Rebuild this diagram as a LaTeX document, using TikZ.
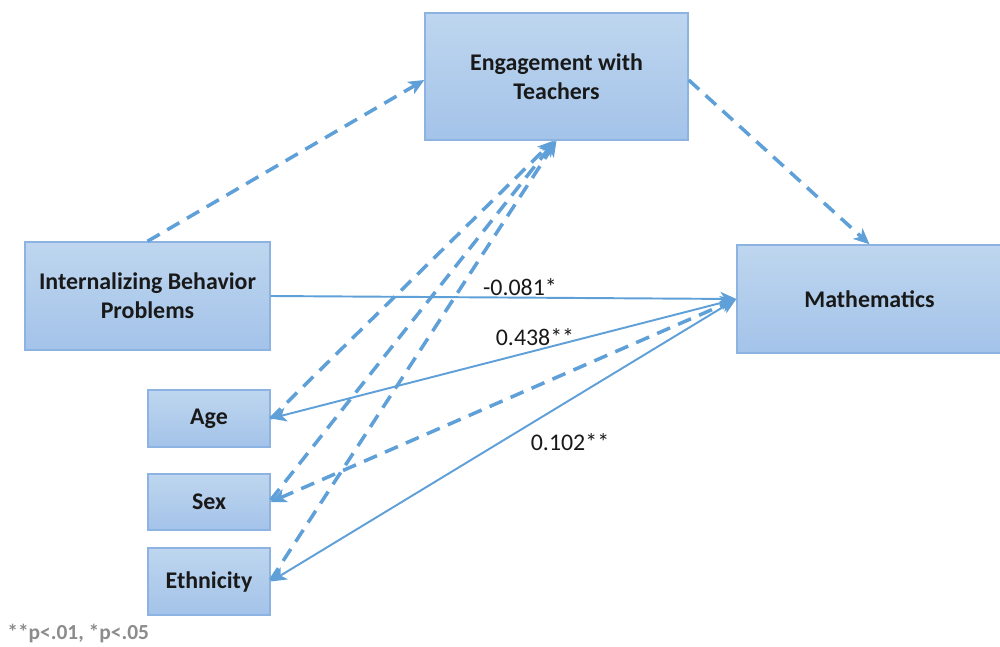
\documentclass[tikz,border=0pt]{standalone}
\usepackage{fontspec}
\setmainfont{Carlito}
\usetikzlibrary{arrows.meta}
\definecolor{lineblue}{RGB}{96,160,216}
\definecolor{boxtop}{RGB}{190,214,239}
\definecolor{boxbot}{RGB}{164,195,233}
\definecolor{boxedge}{RGB}{140,179,225}
\definecolor{txtdark}{RGB}{25,25,25}
\definecolor{notegray}{RGB}{140,140,140}
\tikzset{
  varbox/.style={rectangle, draw=boxedge, line width=0.8pt, top color=boxtop, bottom color=boxbot,
    inner sep=0pt, align=center, text=txtdark,
    font=\fontsize{13.6}{16.4}\selectfont\bfseries},
  solidarrow/.style={draw=lineblue, line width=1.1pt, -{Stealth[length=9pt,width=8pt,inset=2.5pt]}},
  solidboth/.style={draw=lineblue, line width=1.1pt, {Stealth[length=9pt,width=8pt,inset=2.5pt]}-{Stealth[length=9pt,width=8pt,inset=2.5pt]}},
  dasharrow/.style={draw=lineblue, line width=2pt, dash pattern=on 8pt off 5pt, -{Stealth[length=9pt,width=8pt,inset=2.5pt]}},
  dashboth/.style={draw=lineblue, line width=2pt, dash pattern=on 8pt off 5pt, {Stealth[length=9pt,width=8pt,inset=2.5pt]}-{Stealth[length=9pt,width=8pt,inset=2.5pt]}},
  coef/.style={text=txtdark, inner sep=0pt, font=\fontsize{13.6}{16.4}\selectfont},
}
\begin{document}
\begin{tikzpicture}[x=0.02cm, y=-0.02cm]
\useasboundingbox (0,0) rectangle (1000,646);
\fill[white] (0,0) rectangle (1000,646);
% boxes
\node[varbox, minimum width=263*0.02cm, minimum height=127*0.02cm] (eng) at (556.5,76.5) {Engagement with\\Teachers};
\node[varbox, minimum width=245*0.02cm, minimum height=108*0.02cm] (ibp) at (147.5,296) {Internalizing Behavior\\Problems};
\node[varbox, minimum width=265*0.02cm, minimum height=108*0.02cm] (math) at (869.5,299) {Mathematics};
\node[varbox, minimum width=122*0.02cm, minimum height=57*0.02cm] (age) at (209,418.5) {Age};
\node[varbox, minimum width=122*0.02cm, minimum height=56*0.02cm] (sex) at (209,502) {Sex};
\node[varbox, minimum width=122*0.02cm, minimum height=67*0.02cm] (eth) at (209,581.5) {Ethnicity};
% connectors
\draw[dasharrow] (ibp.north) -- ([yshift=-3.5*0.02cm]eng.west);
\draw[dasharrow] ([yshift=-3.5*0.02cm]eng.east) -- (math.north);
\draw[solidarrow] (ibp.east) -- (math.west);
\draw[solidboth] (age.east) -- (math.west);
\draw[dashboth] (sex.east) -- (math.west);
\draw[solidboth] (eth.east) -- (math.west);
\draw[dasharrow] (age.east) -- ([xshift=-3*0.02cm]eng.south);
\draw[dasharrow] ([yshift=2*0.02cm]sex.east) -- ([xshift=-1.5*0.02cm]eng.south);
\draw[dasharrow] ([yshift=1.5*0.02cm]eth.east) -- (eng.south);
% coefficients
\node[coef] (c1) at (520,287) {-0.081*};
\node[coef] (c2) at (535,337) {0.438**};
\node[coef] (c3) at (570,442) {0.102**};
% footnote
\node[anchor=west, inner sep=0pt, text=notegray, font=\fontsize{12.2}{14}\selectfont\bfseries] (note) at (7,634) {**p<.01, *p<.05};
\end{tikzpicture}
\end{document}
